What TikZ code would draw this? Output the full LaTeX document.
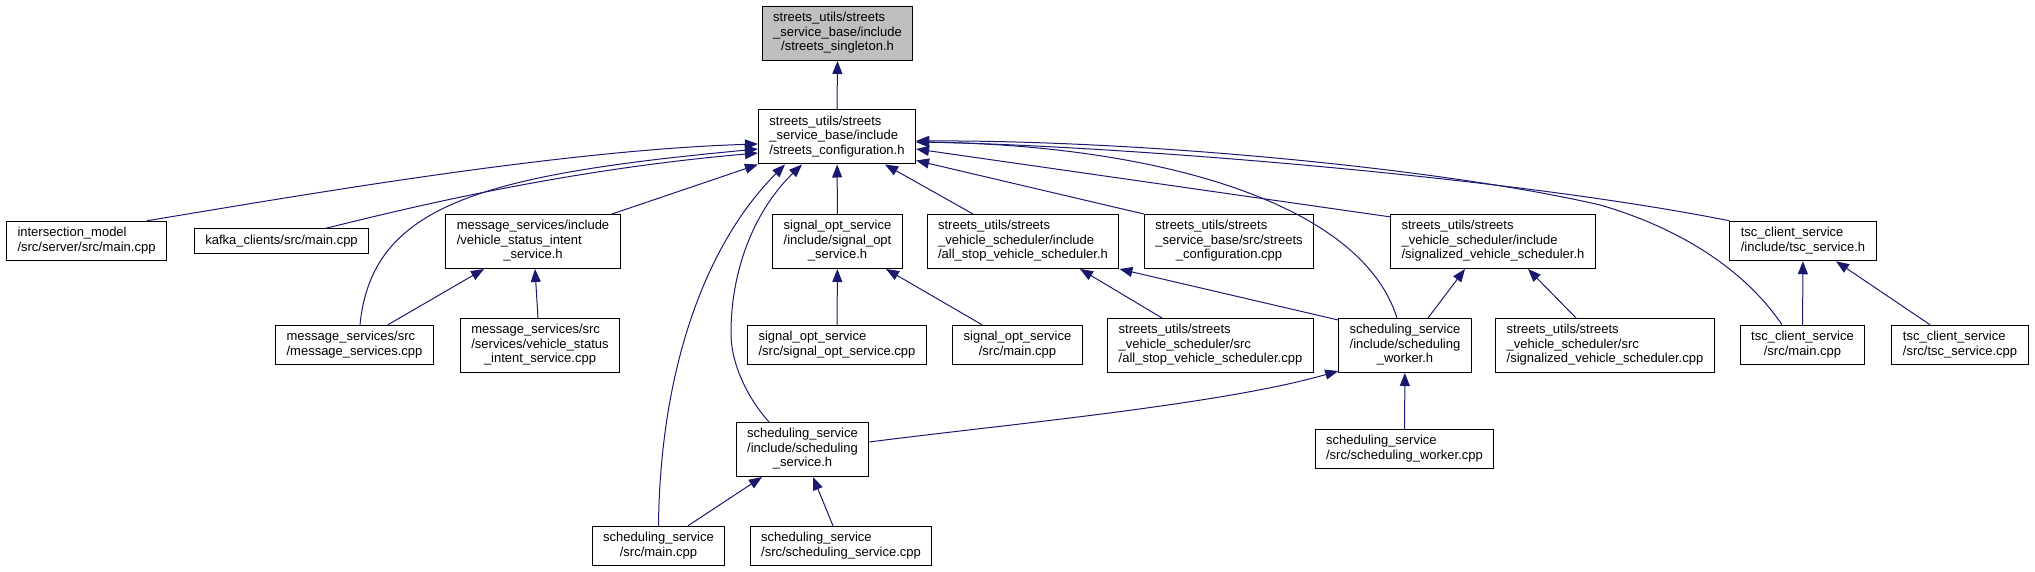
\documentclass[tikz,border=0pt]{standalone}
\usepackage{fontspec}
\setmainfont{Liberation Sans}
\usetikzlibrary{arrows.meta, calc}
\definecolor{edgec}{HTML}{191970}
\definecolor{rootfill}{HTML}{BFBFBF}

\begin{document}
\begin{tikzpicture}[x=1pt, y=-1pt,
    every node/.style={font=\fontsize{13}{14.5}\selectfont},
    filenode/.style={draw=black, line width=1pt, fill=white, inner xsep=11pt, inner ysep=5.25pt},
    rootnode/.style={filenode, fill=rootfill},
    dep/.style={edgec, line width=1pt, -{Triangle[length=13pt, width=10pt]}},
]

\def\fl#1#2{\begin{tabular}{@{}l@{}}#1\\\multicolumn{1}{@{}c@{}}{#2}\end{tabular}}
\def\fc#1{\begin{tabular}{@{}c@{}}#1\end{tabular}}

\useasboundingbox (0,0) rectangle (2035,572);

% ---------------------------------------------------------------- the headers
\node[rootnode] (sing) at (837.5,33.5) {\fl{streets\_utils/streets\\\_service\_base/include}{/streets\_singleton.h}};
\node[filenode] (cfg) at (837,137) {\fl{streets\_utils/streets\\\_service\_base/include}{/streets\_configuration.h}};

% ---------------------------------------------------------------- row 1
\node[filenode] (im) at (86.5,241) {\fl{intersection\_model}{/src/server/src/main.cpp}};
\node[filenode] (kafka) at (281.5,241.5) {\fc{kafka\_clients/src/main.cpp}};
\node[filenode] (msgh) at (533,241.5) {\fl{message\_services/include\\/vehicle\_status\_intent}{\_service.h}};
\node[filenode] (soh) at (837.5,241.5) {\fl{signal\_opt\_service\\/include/signal\_opt}{\_service.h}};
\node[filenode] (ash) at (1023,241.5) {\fl{streets\_utils/streets\\\_vehicle\_scheduler/include}{/all\_stop\_vehicle\_scheduler.h}};
\node[filenode] (sccpp) at (1229,241.5) {\fl{streets\_utils/streets\\\_service\_base/src/streets}{\_configuration.cpp}};
\node[filenode] (sgh) at (1493,241.5) {\fl{streets\_utils/streets\\\_vehicle\_scheduler/include}{/signalized\_vehicle\_scheduler.h}};
\node[filenode] (tsch) at (1803,241) {\fl{tsc\_client\_service}{/include/tsc\_service.h}};

% ---------------------------------------------------------------- row 2
\node[filenode] (msgcpp) at (354.5,345) {\fl{message\_services/src}{/message\_services.cpp}};
\node[filenode] (vsicpp) at (540,345.5) {\fl{message\_services/src\\/services/vehicle\_status}{\_intent\_service.cpp}};
\node[filenode] (socpp) at (837,345) {\fl{signal\_opt\_service}{/src/signal\_opt\_service.cpp}};
\node[filenode] (somain) at (1017.5,345) {\fl{signal\_opt\_service}{/src/main.cpp}};
\node[filenode] (ascpp) at (1210.5,345.5) {\fl{streets\_utils/streets\\\_vehicle\_scheduler/src}{/all\_stop\_vehicle\_scheduler.cpp}};
\node[filenode] (wrkh) at (1405,345.5) {\fl{scheduling\_service\\/include/scheduling}{\_worker.h}};
\node[filenode] (sgcpp) at (1605,345.5) {\fl{streets\_utils/streets\\\_vehicle\_scheduler/src}{/signalized\_vehicle\_scheduler.cpp}};
\node[filenode] (tscmain) at (1802.5,345) {\fl{tsc\_client\_service}{/src/main.cpp}};
\node[filenode] (tsccpp) at (1960,345) {\fl{tsc\_client\_service}{/src/tsc\_service.cpp}};

% ---------------------------------------------------------------- rows 3 and 4
\node[filenode] (schh) at (802.5,449.5) {\fl{scheduling\_service\\/include/scheduling}{\_service.h}};
\node[filenode] (wrkcpp) at (1404.5,449) {\fl{scheduling\_service}{/src/scheduling\_worker.cpp}};
\node[filenode] (schmain) at (658.5,546) {\fl{scheduling\_service}{/src/main.cpp}};
\node[filenode] (schcpp) at (841,546) {\fl{scheduling\_service}{/src/scheduling\_service.cpp}};

% ---------------------------------------------------------------- into the configuration header
\draw[dep] (cfg.north) -- (sing.south);
\draw[dep] ($(im.north)+(60.5,0)$) .. controls (297,196) and (560,150) .. ($(cfg.west)+(0,7)$);
\draw[dep] ($(kafka.north)+(43.5,0)$) .. controls (400,210) and (560,170) .. ($(cfg.west)+(0,16)$);
\draw[dep] ($(msgcpp.north)+(5.5,0)$) .. controls (372,205) and (480,175) .. ($(cfg.west)+(0,12)$);
\draw[dep] ($(msgh.north)+(79,0)$) -- (cfg.south west);
\draw[dep] (schmain.north) .. controls (660,380) and (700,250) .. ($(cfg.south)+(-52,0)$);
\draw[dep] ($(schh.north)+(-33.5,0)$) .. controls (745,395) and (730,360) .. (731,330)
    .. controls (732,260) and (760,205) .. ($(cfg.south)+(-35,0)$);
\draw[dep] (soh) -- (cfg);
\draw[dep] ($(ash.north)+(-50,0)$) -- ($(cfg.south)+(48,0)$);
\draw[dep] (sccpp.north west) -- ($(cfg.south east)+(0,-4)$);
\draw[dep] ($(sgh.north west)+(1,3)$) -- ($(cfg.east)+(0,12)$);
\draw[dep] ($(wrkh.north)+(-8,0)$) .. controls (1360,200) and (1150,145) .. ($(cfg.east)+(0,5)$);
\draw[dep] (tsch.north west) .. controls (1500,175) and (1100,145) .. ($(cfg.east)+(0,5)$);
\draw[dep] ($(tscmain.north)+(-20.5,0)$) .. controls (1745,270) and (1680,228) .. (1600,205)
    .. controls (1450,170) and (1150,140) .. ($(cfg.east)+(0,4)$);

% ---------------------------------------------------------------- the rest
\draw[dep] ($(msgcpp.north)+(33.5,0)$) -- ($(msgh.south)+(-49,0)$);
\draw[dep] ($(vsicpp.north)+(-2,0)$) -- ($(msgh.south)+(2,0)$);
\draw[dep] (socpp) -- (soh);
\draw[dep] ($(somain.north)+(-35.5,0)$) -- ($(soh.south)+(48.5,0)$);
\draw[dep] ($(ascpp.north)+(-48.5,0)$) -- ($(ash.south)+(57,0)$);
\draw[dep] ($(wrkh.north west)+(0,2)$) -- (ash.south east);
\draw[dep] ($(wrkh.north)+(23,0)$) -- ($(sgh.south)+(-28,0)$);
\draw[dep] ($(sgcpp.north)+(-29,0)$) -- ($(sgh.south)+(35,0)$);
\draw[dep] (tscmain) -- (tsch);
\draw[dep] ($(tsccpp.north)+(-30,0)$) -- ($(tsch.south)+(33,0)$);
\draw[dep] ($(schh.east)+(0,-7.5)$) .. controls (1000,425) and (1220,405) .. ($(wrkh.south west)+(0,-2)$);
\draw[dep] (wrkcpp) -- (wrkh);
\draw[dep] ($(schmain.north)+(29.5,0)$) -- ($(schh.south)+(-40.5,0)$);
\draw[dep] ($(schcpp.north)+(-8,0)$) -- ($(schh.south)+(10.5,0)$);

\end{tikzpicture}
\end{document}
